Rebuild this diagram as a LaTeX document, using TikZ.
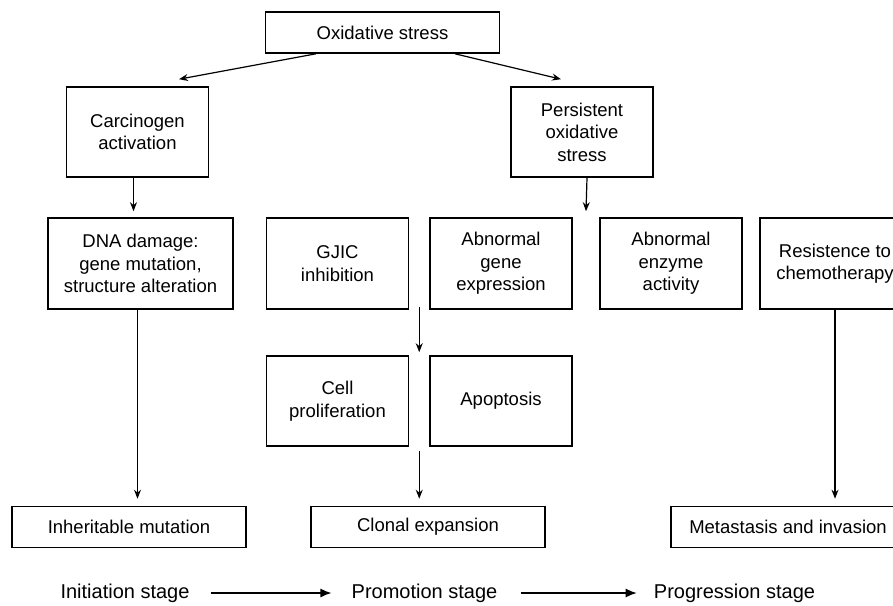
\documentclass[tikz,border=0pt]{standalone}
\usepackage{fontspec}
\setmainfont{Liberation Sans}
\usetikzlibrary{arrows.meta,calc}
\newcommand{\boxfont}{\fontsize{18.5}{22.5}\selectfont}

\begin{document}
\begin{tikzpicture}[x=1pt,y=-1pt,
    box/.style={rectangle,draw,line width=1.6pt,minimum width=142pt,minimum height=90pt,
      inner sep=0pt,align=center,font=\boxfont},
    wide/.style={box,minimum width=234pt,minimum height=41pt},
    arr/.style={-{Stealth[length=9pt,width=7pt]},line width=1.2pt},
    stagearr/.style={-{Latex[length=11pt,width=9pt]},line width=1.4pt},
    stage/.style={inner sep=0pt,font=\fontsize{20}{24}\selectfont}]
  \useasboundingbox (0,0) rectangle (893,605);
  \node[wide] (ox) at (382.5,32.5) {Oxidative stress};
  \node[box] (carc) at (137.5,132) {Carcinogen\\activation};
  \node[box] (pers) at (582,132) {Persistent\\oxidative\\stress};
  \node[box,minimum width=185pt,minimum height=91pt] (dna) at (140.5,263.5) {DNA damage:\\gene mutation,\\structure alteration};
  \node[box,minimum height=91pt] (gjic) at (337.5,263.5) {GJIC\\inhibition};
  \node[box,minimum height=91pt] (gene) at (501,263.5) {Abnormal\\gene\\expression};
  \node[box,minimum height=91pt] (enz) at (671,263.5) {Abnormal\\enzyme\\activity};
  \node[box,minimum width=150pt,minimum height=91pt] (res) at (835,263.5) {Resistence to\\chemotherapy};
  \node[box] (cell) at (337.5,401) {Cell\\proliferation};
  \node[box] (apop) at (501,401) {Apoptosis};
  \node[wide] (inh) at (129,527) {Inheritable mutation};
  \node[wide] (clon) at (428,527) {Clonal expansion};
  \node[wide] (meta) at (788,527) {Metastasis and invasion};
  \node[stage] (init) at (125,593) {Initiation stage};
  \node[stage] (promo) at (424.5,593) {Promotion stage};
  \node[stage] (prog) at (734.5,593) {Progression stage};
  \coordinate (gap1) at ($(gene.north east)!.5!(enz.north west)+(0,6pt)$);
  \coordinate (gap2) at ($(gjic.south east)!.5!(gene.south west)+(0,3pt)$);
  \coordinate (gap3) at ($(cell.south east)!.5!(apop.south west)+(0,-4pt)$);

  \draw[arr] ([xshift=-66.5pt]ox.south) -- ([xshift=41.5pt,yshift=7pt]carc.north);
  \draw[arr] ([xshift=72.5pt]ox.south) -- ([xshift=-21pt,yshift=7pt]pers.north);
  \draw[arr,shorten >=6pt] ([xshift=-4pt]carc.south) -- ([xshift=-4pt]carc.south |- dna.north);
  \draw[arr] ([xshift=5pt]pers.south) -- (gap1);
  \draw[arr,shorten >=3pt] (gap2) -- (gap2 |- cell.north);
  \draw[arr,shorten >=7pt] (gap3) -- (gap3 |- clon.north);
  \draw[arr,shorten >=7pt] ([xshift=-3pt]dna.south) -- ([xshift=-3pt]dna.south |- inh.north);
  \draw[arr,shorten >=7pt] (res.south) -- (res.south |- meta.north);
  \draw[stagearr] ([xshift=21pt]init.east) -- ([xshift=-20pt]promo.west);
  \draw[stagearr] ([xshift=23pt]promo.east) -- ([xshift=-17pt]prog.west);
\end{tikzpicture}
\end{document}
